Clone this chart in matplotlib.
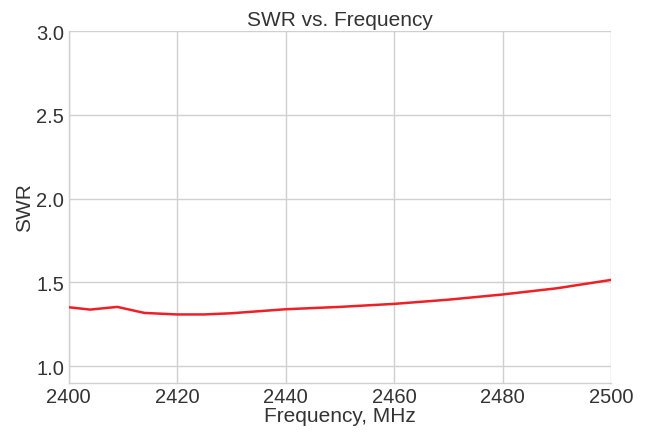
import matplotlib
matplotlib.use("Agg")
import matplotlib.pyplot as plt

freq = [2400, 2404, 2409, 2414, 2420, 2425, 2430, 2440, 2450, 2460, 2470, 2480, 2490, 2500]
swr = [1.352, 1.338, 1.354, 1.318, 1.309, 1.309, 1.316, 1.340, 1.354, 1.372, 1.397, 1.428, 1.465, 1.515]

plt.rcParams['font.family'] = ['Liberation Sans', 'DejaVu Sans']
txt = '#333333'
fig = plt.figure(figsize=(6.54, 4.35), dpi=100)
ax = fig.add_axes([68.5/654, 1-384/435, (611-68.5)/654, (384-32)/435])
ax.plot(freq, swr, color='#ee1f25', lw=1.8, zorder=3)
ax.set_xlim(2400, 2500)
ax.set_ylim(0.9, 3.0)
ax.set_xticks([2400, 2420, 2440, 2460, 2480, 2500])
ax.set_yticks([1.0, 1.5, 2.0, 2.5, 3.0])
ax.set_yticklabels(['1.0', '1.5', '2.0', '2.5', '3.0'])
ax.grid(True, color='#d0d0d0', lw=1.0)
ax.set_axisbelow(True)
for s in ['top', 'right']:
    ax.spines[s].set_visible(False)
for s in ['left', 'bottom']:
    ax.spines[s].set_color('#d0d0d0')
    ax.spines[s].set_linewidth(1.0)
ax.tick_params(length=0, labelsize=14.5, labelcolor=txt, pad=3)
ax.set_title('SWR vs. Frequency', fontsize=15, color=txt, pad=4)
ax.set_xlabel('Frequency, MHz', fontsize=15, color=txt, labelpad=0)
ax.set_ylabel('SWR', fontsize=15, color=txt, labelpad=2)
fig.savefig('out.png', dpi=100)
